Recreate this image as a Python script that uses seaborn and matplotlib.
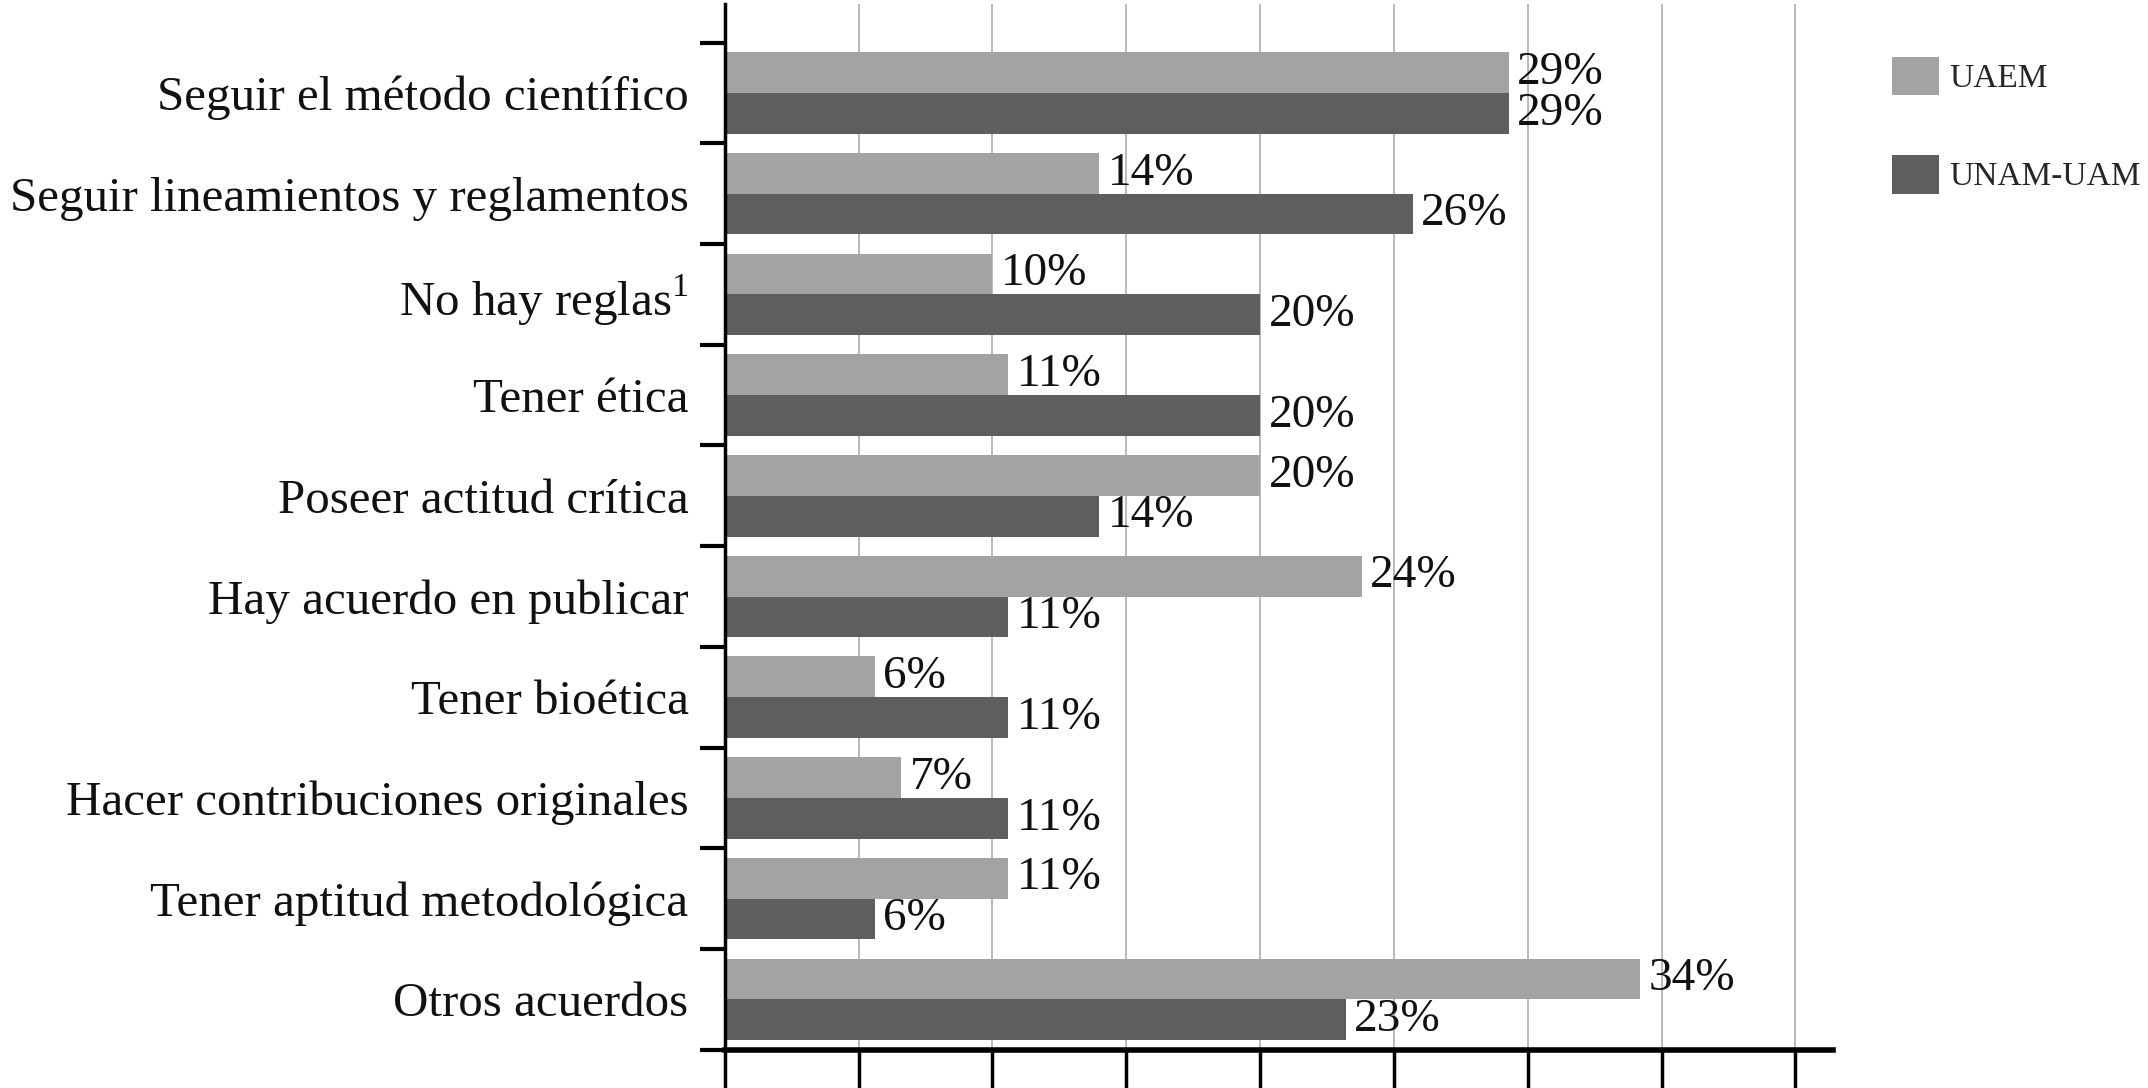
import matplotlib
matplotlib.use("Agg")
import matplotlib.pyplot as plt
import seaborn as sns
import numpy as np
import pandas as pd

categories = [
    "Seguir el método científico",
    "Seguir lineamientos y reglamentos",
    "No hay reglas$^{1}$",
    "Tener ética",
    "Poseer actitud crítica",
    "Hay acuerdo en publicar",
    "Tener bioética",
    "Hacer contribuciones originales",
    "Tener aptitud metodológica",
    "Otros acuerdos",
]
uaem = [29.3, 14, 10, 10.6, 20, 23.8, 5.6, 6.6, 10.6, 34.2]
unam_uam = [29.3, 25.7, 20, 20, 14, 10.6, 10.6, 10.6, 5.6, 23.2]
groups = ["UAEM", "UNAM-UAM"]

df = pd.DataFrame({
    "categoria": categories * 2,
    "grupo": [groups[0]] * len(categories) + [groups[1]] * len(categories),
    "valor": uaem + unam_uam,
})

sns.set_style("white")
plt.rcParams["font.family"] = ["Liberation Serif", "DejaVu Serif"]
plt.rcParams["mathtext.fontset"] = "custom"
plt.rcParams["mathtext.rm"] = "Liberation Serif"

fig = plt.figure(figsize=(21.48, 10.88), dpi=100)
ax = fig.add_axes([0.3374, 0.0352, 0.8533 - 0.3374, 0.996 - 0.0352])

sns.barplot(data=df, y="categoria", x="valor", hue="grupo", hue_order=groups,
            palette=["#a3a3a3", "#5e5e5e"], width=0.81, orient="h",
            saturation=1, ax=ax, errorbar=None, linewidth=0)

for cont in ax.containers:
    vals = [b.get_width() for b in cont]
    ax.bar_label(cont, labels=[f"{int(v + 0.5)}%" for v in vals],
                 padding=6, fontsize=34, color="#111111")

ax.set_xlim(0, 41.4)
ax.set_ylim(9.5, -0.88)
ax.set_xticks(np.arange(0, 41, 5))
ax.set_xticklabels([])
ax.set_yticks(np.arange(-0.5, 10, 1), minor=True)
ax.xaxis.grid(True, color="#b4b4b4", linewidth=1.3)
ax.set_axisbelow(True)
ax.set_xlabel("")
ax.set_ylabel("")

ax.tick_params(axis="y", which="major", length=0, pad=26, labelsize=35.3,
               labelcolor="#111111")
ax.tick_params(axis="y", which="minor", length=18, width=3, direction="out",
               color="black", left=True)
ax.tick_params(axis="x", which="major", length=27, width=2.5, direction="out",
               color="black", bottom=True)

for s in ["top", "right"]:
    ax.spines[s].set_visible(False)
ax.spines["left"].set_linewidth(2.5)
ax.spines["left"].set_color("black")
ax.spines["bottom"].set_linewidth(4)
ax.spines["bottom"].set_color("black")

ax.legend(loc="upper left", bbox_to_anchor=(0.881, 0.948),
          bbox_transform=fig.transFigure, frameon=False, fontsize=24,
          handlelength=1.4, handleheight=1.4, labelspacing=1.8,
          handletextpad=0.3, borderpad=0, borderaxespad=0)

fig.savefig("out.png", dpi=100)
